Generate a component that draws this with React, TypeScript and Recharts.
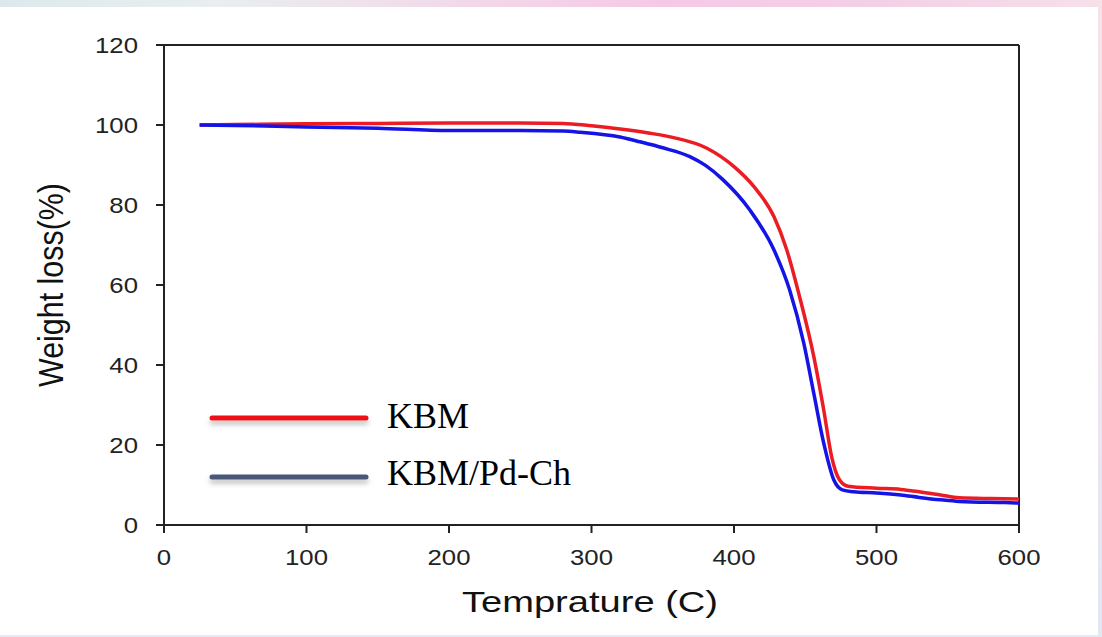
import { LineChart, Line, XAxis, YAxis, ReferenceLine, Legend } from 'recharts';

const KBM_T = [25, 50, 100, 150, 200, 250, 280, 300, 320, 340, 357, 381, 400, 414, 428, 437, 446, 456, 463, 468.5, 474, 480, 500, 517, 530, 545, 558, 580, 600];
const KBM_W = [100, 100.1, 100.3, 100.4, 100.5, 100.5, 100.4, 99.8, 99, 98, 96.9, 94.2, 89.6, 84.6, 77.1, 68.8, 57.1, 42.1, 28.7, 17.1, 11.3, 9.7, 9.2, 8.9, 8.3, 7.5, 6.8, 6.6, 6.5];

const PD_T = [25, 50, 100, 150, 200, 250, 280, 292, 320, 334, 350, 369, 380, 392, 411, 428, 439, 449, 456, 463, 470, 476, 484, 500, 517, 530, 545, 558, 590, 600];
const PD_W = [100, 99.9, 99.5, 99.2, 98.6, 98.6, 98.5, 98.2, 97, 95.8, 94.3, 92.1, 89.9, 86.4, 78.8, 68.8, 58.8, 45.4, 32.9, 20.4, 11.3, 8.8, 8.3, 8, 7.5, 6.9, 6.3, 5.9, 5.6, 5.5];

const X_TICKS = [0, 100, 200, 300, 400, 500, 600];
const Y_TICKS = [0, 20, 40, 60, 80, 100, 120];

const SERIES = [
  { name: 'KBM', color: '#ec1c24', legendColor: '#f01018' },
  { name: 'KBM/Pd-Ch', color: '#1414e6', legendColor: '#4a5878' },
];

const kbmData = KBM_T.map((t, i) => ({ t, w: KBM_W[i] }));
const pdData = PD_T.map((t, i) => ({ t, w: PD_W[i] }));

const AXIS_FONT = "'Liberation Sans', Arial, sans-serif";

const YTick = (props: any) => {
  const { x, y, payload } = props;
  return (
    <g transform={`translate(${x},${y})`}>
      <text transform="scale(1.17,1)" textAnchor="end" dy={8} fontSize={22} fontFamily={AXIS_FONT} fill="#222">
        {payload.value}
      </text>
    </g>
  );
};

const XTick = (props: any) => {
  const { x, y, payload } = props;
  return (
    <g transform={`translate(${x},${y})`}>
      <text transform="scale(1.17,1)" textAnchor="middle" dy={22} fontSize={22} fontFamily={AXIS_FONT} fill="#222">
        {payload.value}
      </text>
    </g>
  );
};

const LegendBox = () => (
  <svg width={420} height={110} style={{ overflow: 'visible', display: 'block' }}>
    <defs>
      <filter id="lgshadow" filterUnits="userSpaceOnUse" x={-10} y={-20} width={440} height={150}>
        <feDropShadow dx={0} dy={4} stdDeviation={2.5} floodColor="#777" floodOpacity={0.45} />
      </filter>
    </defs>
    {SERIES.map((s, i) => (
      <g key={s.name}>
        <line x1={6} x2={160} y1={10 + i * 59} y2={10 + i * 59} stroke={s.legendColor} strokeWidth={5} strokeLinecap="round" filter="url(#lgshadow)" />
        <text x={181} y={20 + i * 57} fontSize={36} fontFamily="'Liberation Serif', 'Times New Roman', serif" fill="#000">
          {s.name}
        </text>
      </g>
    ))}
  </svg>
);

export default function App() {
  return (
    <div style={{ position: 'absolute', left: 0, top: 0, width: 1102, height: 637, background: '#e6eaf3', overflow: 'hidden' }}>
      <div style={{ position: 'absolute', left: 0, top: 0, width: 1102, height: 7, background: 'linear-gradient(to right, #dce9ec 0%, #e9eef0 20%, #f3d6e8 45%, #f5c9e6 60%, #f3d0e6 80%, #f6e0ea 100%)' }} />
      <div style={{ position: 'absolute', left: 1098, top: 0, width: 4, height: 637, background: 'linear-gradient(to bottom, #f8e2ea 0%, #f0e4ee 50%, #e2e8f4 100%)' }} />
      <div style={{ position: 'absolute', left: 0, top: 7, width: 1098, height: 628, background: '#fff' }} />
      <div style={{ position: 'absolute', left: 0, top: 0 }}>
        <LineChart width={1102} height={637} margin={{ top: 45, right: 83, bottom: 52, left: 64 }}>
          <XAxis
            type="number"
            dataKey="t"
            domain={[0, 600]}
            ticks={X_TICKS}
            allowDataOverflow
            height={60}
            stroke="#222"
            strokeWidth={2}
            tickSize={8}
            tickMargin={10}
            tick={<XTick />}
            label={{
              content: () => (
                <text x={590} y={612} textAnchor="middle" fontSize={30} textLength={256} lengthAdjust="spacingAndGlyphs" fontFamily={AXIS_FONT} fill="#111">
                  Temprature (C)
                </text>
              ),
            }}
          />
          <YAxis
            type="number"
            dataKey="w"
            domain={[0, 120]}
            ticks={Y_TICKS}
            allowDataOverflow
            width={100}
            stroke="#222"
            strokeWidth={2}
            tickSize={8}
            tickMargin={18}
            tick={<YTick />}
            label={{
              content: () => (
                <text transform="translate(63,285) rotate(-90) scale(1,1.17)" textAnchor="middle" fontSize={30} textLength={204} lengthAdjust="spacingAndGlyphs" fontFamily={AXIS_FONT} fill="#111">
                  Weight loss(%)
                </text>
              ),
            }}
          />
          <ReferenceLine y={120} stroke="#222" strokeWidth={2} />
          <ReferenceLine x={600} stroke="#222" strokeWidth={2} />
          <Line data={kbmData} dataKey="w" name="KBM" type="monotone" stroke={SERIES[0].color} strokeWidth={3.5} dot={false} isAnimationActive={false} />
          <Line data={pdData} dataKey="w" name="KBM/Pd-Ch" type="monotone" stroke={SERIES[1].color} strokeWidth={3.5} dot={false} isAnimationActive={false} />
          <Legend
            layout="horizontal"
            verticalAlign="middle"
            align="center"
            content={<LegendBox />}
            wrapperStyle={{ position: 'absolute', left: 206, top: 408, width: 420, height: 110 }}
          />
        </LineChart>
      </div>
    </div>
  );
}
